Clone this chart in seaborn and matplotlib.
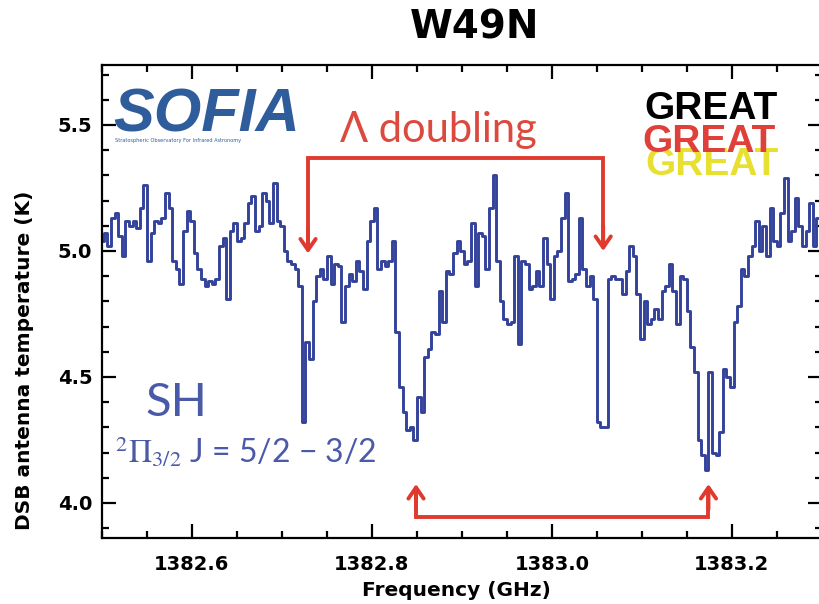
import numpy as np
import pandas as pd
import matplotlib
matplotlib.use("Agg")
import matplotlib.pyplot as plt
from matplotlib.ticker import MultipleLocator, ScalarFormatter
import seaborn as sns

# SH spectrum toward W49N (SOFIA/GREAT), DSB antenna temperature per channel
freq_start = 1382.500   # GHz, first channel
chan_width = 0.004      # GHz
t_antenna = [
    5.04, 5.07, 5.02, 5.13, 5.15, 5.06, 4.98, 5.12, 5.10, 5.12,
    5.09, 5.17, 5.26, 4.96, 5.07, 5.12, 5.11, 5.13, 5.23, 5.17,
    4.96, 4.93, 4.87, 5.08, 5.16, 5.12, 4.99, 4.93, 4.89, 4.86,
    4.88, 4.87, 4.89, 5.02, 5.05, 4.81, 5.08, 5.11, 5.04, 5.05,
    5.11, 5.19, 5.22, 5.08, 5.10, 5.23, 5.20, 5.11, 5.27, 5.12,
    5.10, 5.00, 4.96, 4.95, 4.93, 4.86, 4.32, 4.64, 4.57, 4.80,
    4.90, 4.93, 4.89, 4.98, 4.87, 4.95, 4.94, 4.72, 4.86, 4.91,
    4.88, 4.96, 4.92, 4.85, 5.04, 5.12, 5.17, 4.93, 4.96, 4.94,
    4.96, 5.04, 4.68, 4.46, 4.36, 4.29, 4.30, 4.25, 4.42, 4.36,
    4.58, 4.61, 4.68, 4.67, 4.84, 4.72, 4.92, 4.91, 4.99, 5.04,
    5.00, 4.95, 4.96, 5.11, 4.86, 5.07, 5.06, 4.93, 5.17, 5.30,
    4.96, 4.80, 4.73, 4.71, 4.72, 4.98, 4.63, 4.96, 4.95, 4.85,
    4.86, 4.92, 4.86, 5.05, 4.95, 4.81, 4.98, 5.00, 5.13, 5.23,
    4.88, 4.89, 4.91, 5.13, 4.93, 4.86, 4.90, 4.81, 4.32, 4.30,
    4.30, 4.89, 4.90, 4.89, 4.89, 4.83, 4.92, 5.02, 4.98, 4.83,
    4.65, 4.80, 4.71, 4.73, 4.77, 4.73, 4.84, 4.86, 4.95, 4.84,
    4.71, 4.90, 4.89, 4.76, 4.62, 4.52, 4.25, 4.19, 4.13, 4.52,
    4.20, 4.19, 4.28, 4.53, 4.50, 4.46, 4.72, 4.78, 4.93, 4.90,
    4.98, 5.02, 5.12, 5.00, 5.10, 4.98, 5.17, 5.04, 5.02, 5.15,
    5.29, 5.04, 5.08, 5.21, 5.10, 5.02, 5.08, 5.19, 5.02, 5.13,
]
freq = freq_start + chan_width * np.arange(len(t_antenna))

# Lambda-doubling components: (frequency of the pointer, temperature at the tip)
pair_top = [(1382.729, 4.99), (1383.057, 5.00)]
pair_bottom = [(1382.849, 4.075), (1383.174, 4.075)]
top_bar_y = 5.37
bottom_bar_y = 3.944

x_major = [1382.6, 1382.8, 1383.0, 1383.2]
y_major = [4.0, 4.5, 5.0, 5.5]

sns.set_style("ticks")
plt.rcParams["font.family"] = ["DejaVu Sans"]
plt.rcParams["mathtext.fontset"] = "stix"

df = pd.DataFrame({"freq": freq, "tant": t_antenna})

fig = plt.figure(figsize=(8.19, 6.04), dpi=100)
ax = fig.add_axes([0.1245, 0.1093, 0.879, 0.7831])

sns.lineplot(data=df, x="freq", y="tant", ax=ax, estimator=None, sort=True,
             drawstyle="steps-mid", color="#33429a", linewidth=2.1)

ax.set_xlim(1382.5, 1383.3)
ax.set_ylim(3.861, 5.738)
ax.set_xticks(x_major)
ax.set_yticks(y_major)
ax.xaxis.set_minor_locator(MultipleLocator(0.05))
ax.yaxis.set_minor_locator(MultipleLocator(0.1))
fmt = ScalarFormatter(useOffset=False)
ax.xaxis.set_major_formatter(fmt)
ax.set_xticklabels([f"{v:.1f}" for v in x_major])
ax.set_yticklabels([f"{v:.1f}" for v in y_major])

ax.tick_params(which="both", direction="in", top=True, right=True,
               color="black", width=1.6, labelcolor="black")
ax.tick_params(which="major", length=10)
ax.tick_params(which="minor", length=5)
ax.tick_params(axis="x", which="major", pad=12, labelsize=14)
ax.tick_params(axis="y", which="major", pad=7, labelsize=14)
for lab in ax.get_xticklabels() + ax.get_yticklabels():
    lab.set_fontweight("bold")
for sp in ax.spines.values():
    sp.set_linewidth(1.6)
    sp.set_color("black")

ax.set_xlabel("Frequency (GHz)", fontsize=14.5, fontweight="bold", color="black")
ax.xaxis.set_label_coords(0.492, -0.092)
ax.set_ylabel("DSB antenna temperature (K)", fontsize=14.5, fontweight="bold",
              color="black")
ax.yaxis.set_label_coords(-0.095, 0.375)

fig.text(0.58, 0.955, "W49N", ha="center", va="center",
         fontsize=28, fontweight="bold", color="black")

# Lambda-doubling brackets
red = "#e03a2e"
arrow_style = "->,head_length=0.8,head_width=0.55"
(xl, yl), (xr, yr) = pair_top
ax.plot([xl, xl, xr, xr], [yl + 0.02, top_bar_y, top_bar_y, yr + 0.02],
        color=red, lw=2.8, solid_joinstyle="miter", zorder=4)
for x, y in pair_top:
    ax.annotate("", xy=(x, y), xytext=(x, y + 0.1),
                arrowprops=dict(arrowstyle=arrow_style, color=red, lw=2.8,
                                shrinkA=0, shrinkB=0),
                zorder=4)
(xl, yl), (xr, yr) = pair_bottom
ax.plot([xl, xl, xr, xr], [yl - 0.02, bottom_bar_y, bottom_bar_y, yr - 0.02],
        color=red, lw=2.8, solid_joinstyle="miter", zorder=4)
for x, y in pair_bottom:
    ax.annotate("", xy=(x, y), xytext=(x, y - 0.1),
                arrowprops=dict(arrowstyle=arrow_style, color=red, lw=2.8,
                                shrinkA=0, shrinkB=0),
                zorder=4)

ax.text(1382.874, 5.431, "Λ doubling", ha="center", va="baseline",
        fontsize=30, color="#dc4a3e", family=["Lato", "DejaVu Sans"])

# Molecule and transition labels
blue = "#4b5aa8"
ax.text(1382.548, 4.344, "SH", ha="left", va="baseline", fontsize=34,
        color=blue, family=["Lato", "DejaVu Sans"])
ax.text(1382.514, 4.16, r"$^{2}\Pi_{3/2}$ J = 5/2 − 3/2", ha="left",
        va="baseline", fontsize=23, color=blue, family=["Lato", "DejaVu Sans"])

# Observatory and instrument marks
ax.text(1382.512, 5.475, "SOFIA", ha="left", va="baseline", fontsize=44,
        fontweight="bold", style="italic", color="#2f5d9b",
        family=["Liberation Sans", "DejaVu Sans"])
ax.text(1382.514, 5.432, "Stratospheric Observatory For Infrared Astronomy",
        ha="left", va="baseline", fontsize=3.6, color="#2f5d9b")
ax.text(1383.104, 5.30, "GREAT", ha="left", va="baseline", fontsize=28,
        fontweight="bold", color="#e8e030", family=["Liberation Sans", "DejaVu Sans"])
ax.text(1383.100, 5.391, "GREAT", ha="left", va="baseline", fontsize=28,
        fontweight="bold", color="#e0403a", family=["Liberation Sans", "DejaVu Sans"])
ax.text(1383.103, 5.522, "GREAT", ha="left", va="baseline", fontsize=28,
        fontweight="bold", color="black", family=["Liberation Sans", "DejaVu Sans"])

fig.savefig("out.png", dpi=100, facecolor="white")
